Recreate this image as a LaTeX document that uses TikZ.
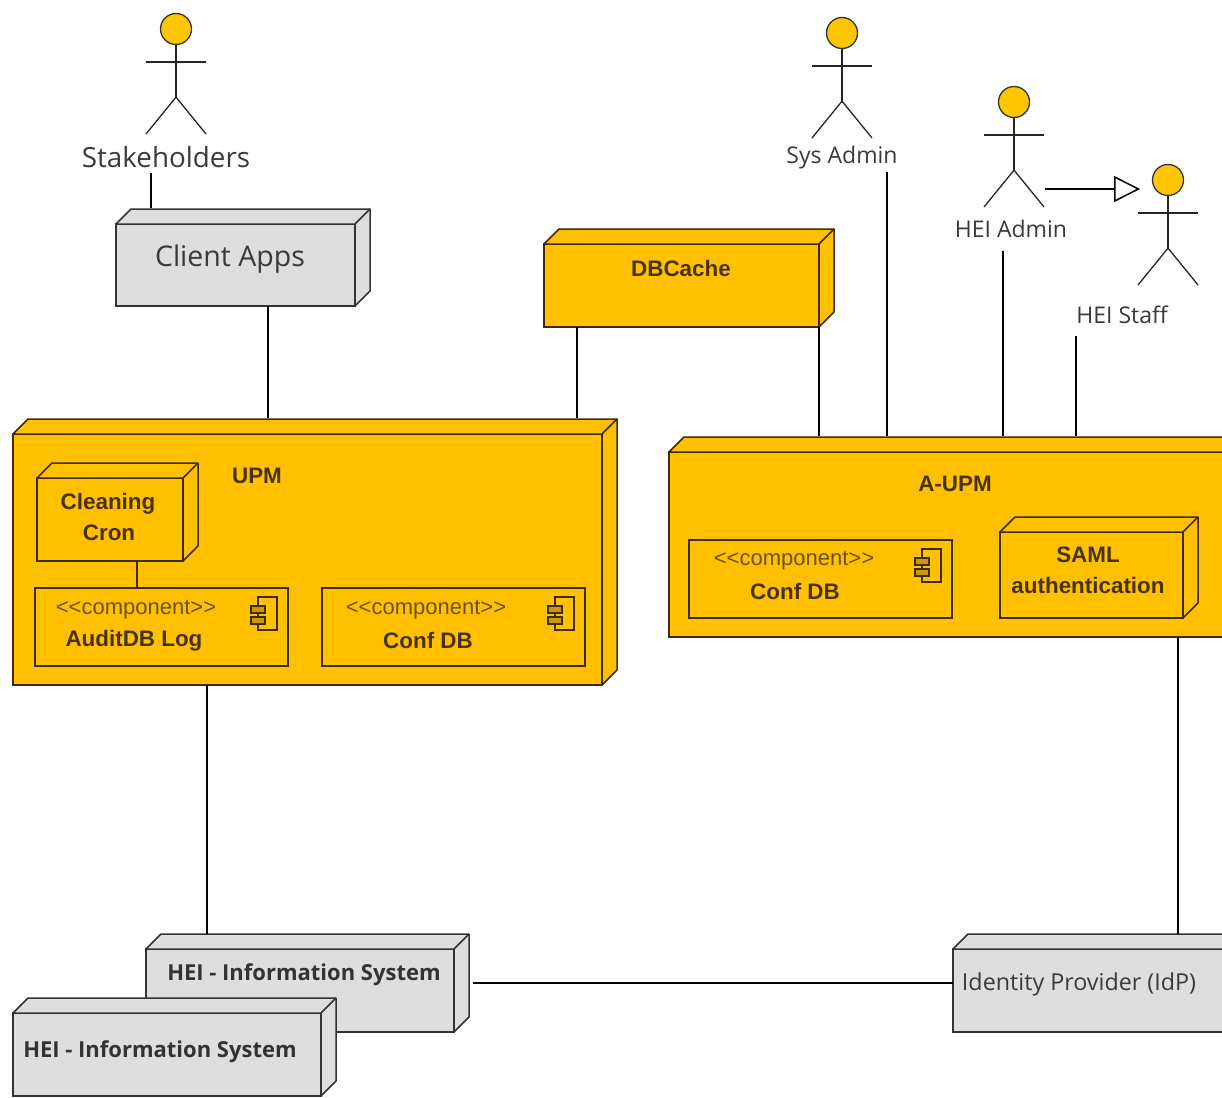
\documentclass[tikz,border=0pt]{standalone}
\usepackage{fontspec}
\setmainfont{Liberation Sans}
\newfontfamily\uifont{Open Sans}
\usetikzlibrary{arrows.meta,fit}
\definecolor{gold}{HTML}{FFC000}
\definecolor{goldline}{HTML}{3F2A05}
\definecolor{goldtext}{HTML}{4A3208}
\definecolor{stereotext}{HTML}{6E5008}
\definecolor{boxgrey}{HTML}{DEDEDE}
\definecolor{uitext}{HTML}{3A3A3A}
\tikzset{
	depbox/.style={draw,inner sep=0pt,outer sep=0pt,line width=1.5pt},
	compbox/.style={depbox,draw=goldline,fill=gold},
	conn/.style={line width=1.5pt},
	actorhead/.style={circle,draw=black!80,fill=gold!90!yellow,inner sep=0pt,minimum size=31pt,line width=1.3pt},
	actorline/.style={line width=1.3pt,black!85},
	boldlabel/.style={text=goldtext,font=\fontsize{22.4}{24}\selectfont\bfseries,align=center},
	stereolabel/.style={text=stereotext,font=\fontsize{22}{24}\selectfont},
	uilabel/.style={text=uitext,font=\uifont\fontsize{#1}{24}\selectfont},
	greylabel/.style={text=black!80,font=\uifont\fontsize{22}{24}\selectfont\bfseries},
}
% name, x0, y0, x1, y1, fill, line
\newcommand{\depnode}[7]{
	\coordinate (#1-a) at (#2,#3);
	\coordinate (#1-b) at (#4,#5);
	\node[depbox,draw=#7,fill=#6,fit=(#1-a)(#1-b)] (#1) {};
	\draw[line width=1.5pt,draw=#7,fill=#6,line join=round] (#1.north west) -- ++(15,-15) -- ([shift={(15,-15)}]#1.north east) -- ([shift={(15,-15)}]#1.south east) -- (#1.south east) -- (#1.north east) -- cycle;
	\draw[line width=1.5pt,draw=#7] (#1.north east) -- ++(15,-15);
}
% name, x0, y0, x1, y1
\newcommand{\compnode}[5]{
	\coordinate (#1-a) at (#2,#3);
	\coordinate (#1-b) at (#4,#5);
	\node[compbox,fit=(#1-a)(#1-b)] (#1) {};
	\draw[line width=1.2pt,goldline] ([shift={(-30,9)}]#1.north east) rectangle ([shift={(-11,42)}]#1.north east);
	\draw[line width=1.2pt,goldline,fill=gold!80!black] ([shift={(-37,18)}]#1.north east) rectangle ([shift={(-23,25)}]#1.north east);
	\draw[line width=1.2pt,goldline,fill=gold!80!black] ([shift={(-37,29)}]#1.north east) rectangle ([shift={(-23,36)}]#1.north east);
}
% name, x, y of the head
\newcommand{\actor}[3]{
	\node[actorhead] (#1) at (#2,#3) {};
	\draw[actorline] (#1.south) -- ++(0,52) coordinate (#1-hip);
	\draw[actorline] ([shift={(-30,33)}]#1.center) -- ([shift={(30,33)}]#1.center);
	\draw[actorline] ([shift={(-30,105)}]#1.center) -- (#1-hip) -- ([shift={(30,105)}]#1.center);
}
\begin{document}
\begin{tikzpicture}[x=1pt,y=-1pt]
		\useasboundingbox (0,0) rectangle (1222,1097);
		\clip (0,0) rectangle (1222,1097);

		\actor{stakeholders}{176}{29}
		\actor{sysadmin}{842}{33}
		\actor{heiadmin}{1014}{102}
		\actor{heistaff}{1168}{180}

		\node[uilabel=27.8] (stakeholderslabel) at (166,157) {Stakeholders};
		\node[uilabel=23] (sysadminlabel) at (842,158) {Sys Admin};
		\node[uilabel=23] (heiadminlabel) at (1011,229) {HEI Admin};
		\node[uilabel=23] (heistafflabel) at (1122,315) {HEI Staff};

		\depnode{clientapps}{116}{224}{355}{306}{boxgrey}{black!80}
		\depnode{dbcache}{544}{244}{819}{327}{gold}{goldline}
		\depnode{upm}{13}{434}{602}{685}{gold}{goldline}
		\depnode{aupm}{669}{452}{1226}{637}{gold}{goldline}
		\depnode{cron}{37}{478}{183}{561}{gold}{goldline}
		\depnode{saml}{1000}{532}{1183}{618}{gold}{goldline}
		\depnode{heiback}{146}{949}{454}{1032}{boxgrey}{black!80}
		\depnode{heifront}{13}{1013}{321}{1096}{boxgrey}{black!80}
		\depnode{idp}{953}{949}{1226}{1032}{boxgrey}{black!80}

		\compnode{auditlog}{35}{588}{288}{666}
		\compnode{confdbu}{322}{588}{585}{666}
		\compnode{confdba}{689}{540}{952}{618}

		\node[uilabel=28.5] (clientappslabel) at (230,259) {Client Apps};
		\node[boldlabel] (dbcachelabel) at (681,268) {DBCache};
		\node[boldlabel] (upmlabel) at (257,476) {UPM};
		\node[boldlabel] (aupmlabel) at (955,484) {A-UPM};
		\node[boldlabel] (cronlabel1) at (108,504) {Cleaning};
		\node[boldlabel] (cronlabel2) at (109,533) {Cron};
		\node[stereolabel] (auditstereo) at (136,610) {<{}<component>{}>};
		\node[boldlabel] (auditlabel) at (134,641) {AuditDB Log};
		\node[stereolabel] (confustereo) at (426,610) {<{}<component>{}>};
		\node[boldlabel] (confulabel) at (428,640) {Conf DB};
		\node[stereolabel] (confastereo) at (794,561) {<{}<component>{}>};
		\node[boldlabel] (confalabel) at (795,591) {Conf DB};
		\node[boldlabel] (samllabel1) at (1088,555) {SAML};
		\node[boldlabel] (samllabel2) at (1088,585) {authentication};
		\node[greylabel] (heibacklabel) at (304,975) {HEI - Information System};
		\node[greylabel] (heifrontlabel) at (160,1052) {HEI - Information System};
		\node[uilabel=23.3] (idplabel) at (1079,984) {Identity Provider (IdP)};

		\coordinate (stakeend) at (151,173);
		\coordinate (clientend) at (151,208);
		\coordinate (upmleft) at (268,418);
		\coordinate (upmright) at (577,418);
		\coordinate (aupmcache) at (819,436);
		\coordinate (aupmsys) at (887,436);
		\coordinate (aupmadmin) at (1003,436);
		\coordinate (aupmstaff) at (1076,436);
		\coordinate (sysend) at (887,172);
		\coordinate (adminend) at (1003,251);
		\coordinate (staffend) at (1076,336);
		\coordinate (heiend) at (207,934);
		\coordinate (idpend) at (1178,934);
		\coordinate (heiside) at (473,983);
		\coordinate (genstart) at (1045,189);
		\coordinate (gentip) at (1140,189);

		\draw[conn] (stakeend) -- (clientend);
		\draw[conn] (upmleft |- clientapps.south) -- (upmleft);
		\draw[conn] (upmright |- dbcache.south) -- (upmright);
		\draw[conn] (aupmcache |- dbcache.south) -- (aupmcache);
		\draw[conn] (sysend) -- (aupmsys);
		\draw[conn] (adminend) -- (aupmadmin);
		\draw[conn] (staffend) -- (aupmstaff);
		\draw[conn] (heiend |- upm.south) -- (heiend);
		\draw[conn] (idpend |- aupm.south) -- (idpend);
		\draw[conn] (heiside) -- (heiside -| idp.west);
		\draw[conn,goldline] (cron.south -| 137,0) -- (auditlog.north -| 137,0);
		\draw[conn,-{Triangle[open,length=26pt,width=26pt,fill=white]}] (genstart) -- (gentip);
	\end{tikzpicture}
\end{document}
